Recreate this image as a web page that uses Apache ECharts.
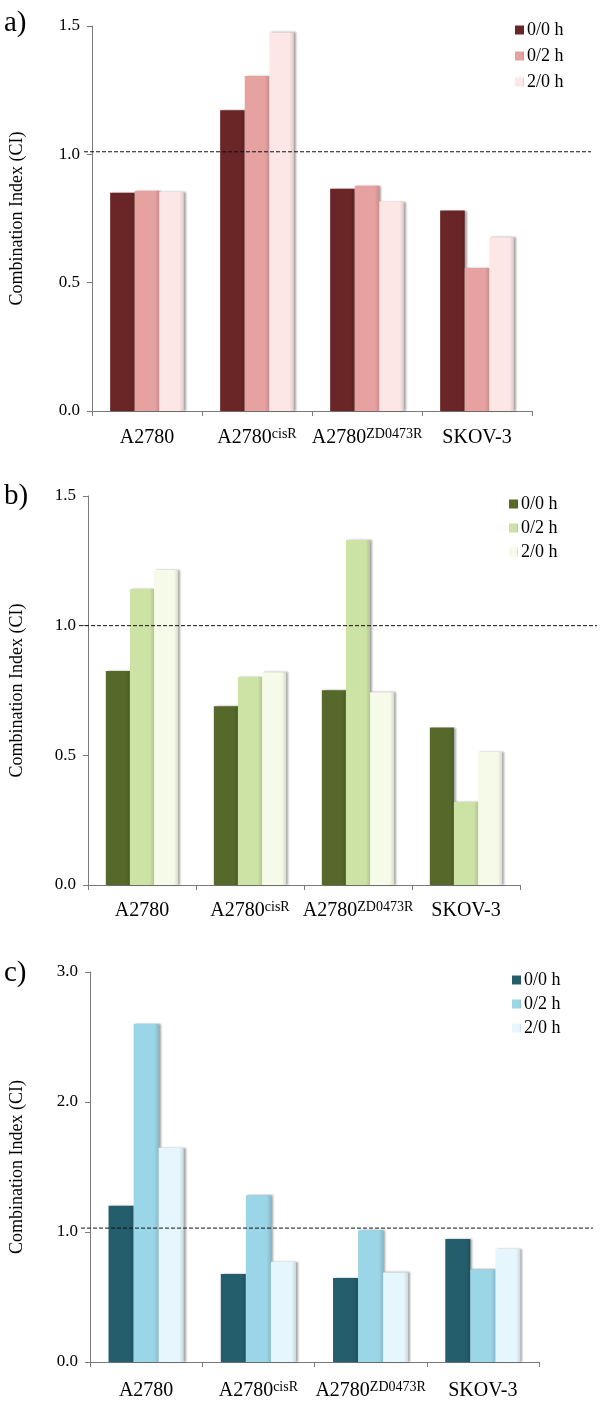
<!DOCTYPE html>
<html><head><meta charset="utf-8">
<script src="https://cdn.jsdelivr.net/npm/echarts@6/dist/echarts.min.js"></script>
<style>body{margin:0;background:#fff}.p{position:absolute;left:0;width:600px}</style>
</head><body>
<div id="pa" class="p" style="top:0;height:465px"></div>
<div id="pb" class="p" style="top:465px;height:465px"></div>
<div id="pc" class="p" style="top:930px;height:471px"></div>
<script>
// ---- data ----
const categories = ['A2780', 'A2780cisR', 'A2780ZD0473R', 'SKOV-3'];
const seriesNames = ['0/0 h', '0/2 h', '2/0 h'];
const panelLabels = ['a)', 'b)', 'c)'];
const yTitle = 'Combination Index (CI)';
// panel a
const a_00 = [0.850, 1.172, 0.866, 0.781];
const a_02 = [0.858, 1.305, 0.878, 0.557];
const a_20 = [0.853, 1.475, 0.816, 0.677];
// panel b
const b_00 = [0.825, 0.689, 0.751, 0.607];
const b_02 = [1.141, 0.802, 1.330, 0.320];
const b_20 = [1.215, 0.820, 0.743, 0.514];
// panel c
const c_00 = [1.202, 0.677, 0.646, 0.947];
const c_02 = [2.601, 1.282, 1.014, 0.712];
const c_20 = [1.649, 0.771, 0.689, 0.871];
// y axis ticks and reference (dashed) lines
const yMaxA = 1.5, yStepA = 0.5, refA = 1.01;
const yMaxB = 1.5, yStepB = 0.5, refB = 1.0;
const yMaxC = 3.0, yStepC = 1.0, refC = 1.03;

const FONT = '"Liberation Serif", "DejaVu Serif", serif';

function shade(c, f) {
  const n = parseInt(c.slice(1), 16);
  let r = (n >> 16) & 255, g = (n >> 8) & 255, b = n & 255;
  r = Math.round(r * f); g = Math.round(g * f); b = Math.round(b * f);
  return 'rgb(' + r + ',' + g + ',' + b + ')';
}
function barColor(c) {
  return new echarts.graphic.LinearGradient(0, 0, 1, 0, [
    {offset: 0, color: c}, {offset: 0.82, color: c}, {offset: 1, color: shade(c, 0.88)}
  ]);
}

function makeChart(el, cfg) {
  const chart = echarts.init(document.getElementById(el), null, {renderer: 'canvas'});
  const g = cfg.grid;
  const barSeries = cfg.data.map((d, i) => ({
    type: 'bar', name: seriesNames[i], data: d, xAxisIndex: 0, yAxisIndex: 0,
    barGap: '0%', barCategoryGap: '33%',
    itemStyle: {color: barColor(cfg.colors[i]), shadowColor: 'rgba(0,0,0,0.35)', shadowBlur: 2, shadowOffsetX: 2, shadowOffsetY: 0},
    silent: true, animation: false
  }));
  chart.setOption({
    animation: false,
    backgroundColor: '#fff',
    title: {text: cfg.label, left: -1, top: cfg.labelTop, textStyle: {fontFamily: FONT, fontSize: 29, fontWeight: 'normal', color: '#000'}},
    legend: {
      data: seriesNames, orient: 'vertical', left: cfg.legendLeft, top: cfg.legendTop,
      itemWidth: 9, itemHeight: 9, itemGap: cfg.legendGap, icon: 'rect',
      textStyle: {fontFamily: FONT, fontSize: 18, color: '#000', lineHeight: 18, padding: [0, 0, 0, -2]}
    },
    grid: [
      {left: g.left, top: g.top, width: g.width, height: g.height},
      {left: g.left, top: g.top, width: cfg.lineRight - g.left, height: g.height}
    ],
    xAxis: [{
      type: 'category', data: categories, gridIndex: 0,
      axisLine: {lineStyle: {color: '#7a7a7a', width: 1}},
      axisTick: {show: true, length: 5, interval: 0, lineStyle: {color: '#7a7a7a'}},
      axisLabel: {
        interval: 0, hideOverlap: false,
        margin: cfg.xMargin, color: '#000', fontFamily: FONT, fontSize: 20,
        formatter: v => {
          const m = v.match(/^(A2780)(.+)$/);
          return m ? '{m|' + m[1] + '}{s|' + m[2] + '}' : '{m|' + v + '}';
        },
        rich: {
          m: {fontFamily: FONT, fontSize: 20, color: '#000', lineHeight: 22},
          s: {fontFamily: FONT, fontSize: 14, color: '#000', lineHeight: 14, verticalAlign: 'top'}
        }
      }
    }, {type: 'value', gridIndex: 1, min: 0, max: 1, show: false}],
    yAxis: [{
      type: 'value', gridIndex: 0, min: 0, max: cfg.yMax, interval: cfg.yStep,
      name: yTitle, nameLocation: 'middle', nameGap: cfg.nameGap,
      nameTextStyle: {fontFamily: FONT, fontSize: 18, color: '#000'},
      axisLine: {show: true, lineStyle: {color: '#7a7a7a', width: 1}},
      axisTick: {show: true, length: 5, lineStyle: {color: '#7a7a7a'}},
      splitLine: {show: false},
      axisLabel: {margin: 12, color: '#000', fontFamily: FONT, fontSize: 17, formatter: v => v.toFixed(1)}
    }, {type: 'value', gridIndex: 1, min: 0, max: cfg.yMax, show: false}],
    series: barSeries.concat([{
      type: 'line', xAxisIndex: 1, yAxisIndex: 1, data: [[0, cfg.ref], [1, cfg.ref]],
      symbol: 'none', silent: true, z: 10,
      lineStyle: {color: '#111', width: 1, type: [4, 2]}
    }])
  });
}

makeChart('pa', {
  label: panelLabels[0], labelTop: 4,
  data: [a_00, a_02, a_20], colors: ['#6A2527', '#E6A1A1', '#FDE7E6'],
  grid: {left: 84, top: 26, width: 448, height: 385},
  lineRight: 591, yMax: yMaxA, yStep: yStepA, ref: refA, nameGap: 66, xMargin: 16,
  legendLeft: 510, legendTop: 16, legendGap: 8
});
makeChart('pb', {
  label: panelLabels[1], labelTop: 12,
  data: [b_00, b_02, b_20], colors: ['#56692B', '#CDE2A5', '#F6FAE8'],
  grid: {left: 79, top: 31, width: 441, height: 389},
  lineRight: 597, yMax: yMaxB, yStep: yStepB, ref: refB, nameGap: 62, xMargin: 15,
  legendLeft: 504, legendTop: 25, legendGap: 6
});
makeChart('pc', {
  label: panelLabels[2], labelTop: 24,
  data: [c_00, c_02, c_20], colors: ['#245D6C', '#9AD6E8', '#E5F7FC'],
  grid: {left: 81, top: 42, width: 458, height: 390},
  lineRight: 593, yMax: yMaxC, yStep: yStepC, ref: refC, nameGap: 64, xMargin: 18,
  legendLeft: 507, legendTop: 36, legendGap: 6
});
</script>
</body></html>
